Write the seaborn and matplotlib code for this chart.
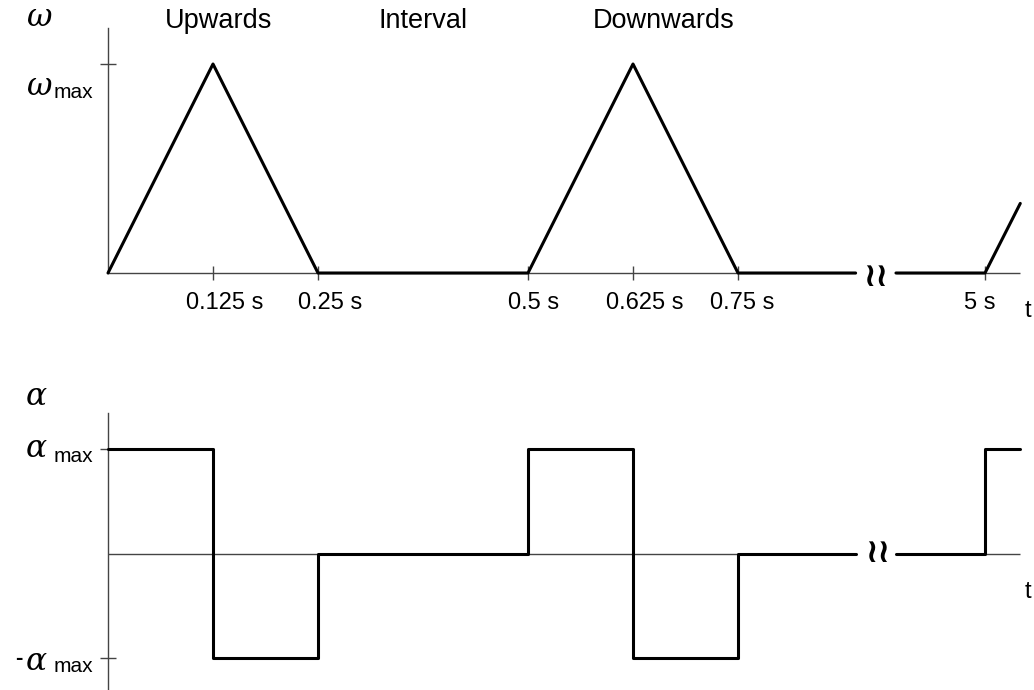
import numpy as np
import pandas as pd
import matplotlib
matplotlib.use("Agg")
import matplotlib.pyplot as plt
import seaborn as sns

# ---- data (times in seconds) ----
omega_t1 = [0.0, 0.125, 0.25, 0.5, 0.625, 0.75, 0.89]
omega_v1 = [0, 1, 0, 0, 1, 0, 0]
omega_t2 = [4.894, 5.0, 5.042]
omega_v2 = [0, 0, 0.333]

alpha_t1 = [0.0, 0.125, 0.125, 0.25, 0.25, 0.5, 0.5, 0.625, 0.625, 0.75, 0.75, 0.89]
alpha_v1 = [1, 1, -1, -1, 0, 0, 1, 1, -1, -1, 0, 0]
alpha_t2 = [4.894, 5.0, 5.0, 5.042]
alpha_v2 = [0, 0, 1, 1]

tick_times = [0.125, 0.25, 0.5, 0.625, 0.75, 5.0]
tick_labels = ["0.125 s", "0.25 s", "0.5 s", "0.625 s", "0.75 s", "5 s"]
phases = ["Upwards", "Interval", "Downwards"]

# ---- layout ----
W, H = 1034, 690
PX_PER_S = 840.0
X0 = 108                 # pixel of t = 0
XR = 1020                # right end of axes
T_SHIFT = 5.0 - (985 - X0) / PX_PER_S   # broken axis: 5 s drawn at x=985
BRK_L, BRK_R = 0.89, 0.938               # gap in plot units

sns.set_style("white")
plt.rcParams["font.family"] = ["Liberation Sans", "DejaVu Sans"]
plt.rcParams["text.color"] = "black"


def tx(t):
    t = np.asarray(t, dtype=float)
    return np.where(t > 1.0, t - T_SHIFT, t)


def px(x, y):
    return x / W, 1 - y / H


def add_box(left, top, right, bottom):
    return fig.add_axes([left / W, 1 - bottom / H, (right - left) / W, (bottom - top) / H])


def segs(t1, v1, t2, v2):
    return pd.DataFrame({
        "x": np.concatenate([tx(t1), tx(t2)]),
        "y": list(v1) + list(v2),
        "seg": [0] * len(t1) + [1] * len(t2),
    })


fig = plt.figure(figsize=(W / 100, H / 100), dpi=100)
xmax = (XR - X0) / PX_PER_S
axis_col = "#444444"

# ---- omega panel ----
ax1 = add_box(X0, 28, XR, 273)
ax1.set_xlim(0, xmax)
ax1.set_ylim(0, (273 - 28) / (273 - 64))
ax1.hlines([0, 0], [0, BRK_R], [BRK_L, xmax], color=axis_col, lw=1.0, zorder=1)
sns.lineplot(data=segs(omega_t1, omega_v1, omega_t2, omega_v2), x="x", y="y",
             units="seg", estimator=None, sort=False, color="black", lw=2.2,
             ax=ax1, zorder=3)

# ---- alpha panel ----
ax2 = add_box(X0, 413, XR, 690)
ax2.set_xlim(0, xmax)
ax2.set_ylim(-(690 - 553.5) / 104.5, (553.5 - 413) / 104.5)
ax2.hlines([0, 0], [0, BRK_R], [BRK_L, xmax], color=axis_col, lw=1.0, zorder=1)
sns.lineplot(data=segs(alpha_t1, alpha_v1, alpha_t2, alpha_v2), x="x", y="y",
             units="seg", estimator=None, sort=False, color="black", lw=2.2,
             ax=ax2, zorder=3)

for ax in (ax1, ax2):
    for s in ("top", "right", "bottom"):
        ax.spines[s].set_visible(False)
    ax.spines["left"].set_color(axis_col)
    ax.spines["left"].set_linewidth(1.0)
    ax.set_xlabel("")
    ax.set_ylabel("")
    ax.patch.set_alpha(0)
    for line in ax.get_lines():
        line.set_clip_on(False)
    for coll in ax.collections:
        coll.set_clip_on(False)

ax1.set_xticks(tx(tick_times))
ax1.set_yticks([1])
ax1.tick_params(axis="x", bottom=True, direction="inout", length=10, width=1,
                color=axis_col, labelbottom=False)
ax1.tick_params(axis="y", left=True, direction="inout", length=12, width=1,
                color=axis_col, labelleft=False)
ax2.set_xticks([])
ax2.set_yticks([1, -1])
ax2.tick_params(axis="y", left=True, direction="inout", length=12, width=1,
                color=axis_col, labelleft=False)

# ---- texts ----
lab_nudge = [12, 12, 6, 12, 4, -5]
for t, lab, dx in zip(tick_times, tick_labels, lab_nudge):
    xp = X0 + float(tx(t)) * PX_PER_S + dx
    fig.text(*px(xp, 303), lab, ha="center", va="center", fontsize=17)

for lab, xc in zip(phases, [219, 423, 664]):
    fig.text(*px(xc, 21), lab, ha="center", va="center", fontsize=19.5)

greek = dict(family=["DejaVu Serif"], style="italic", fontsize=22.5)
fig.text(*px(26, 26), "\u03c9", ha="left", va="baseline", **greek)
fig.text(*px(26, 95), "\u03c9", ha="left", va="baseline", **greek)
fig.text(*px(54, 98), "max", ha="left", va="baseline", fontsize=15)

fig.text(*px(26, 405), "\u03b1", ha="left", va="baseline", **greek)
fig.text(*px(26, 457), "\u03b1", ha="left", va="baseline", **greek)
fig.text(*px(54, 462), "max", ha="left", va="baseline", fontsize=15)
fig.text(*px(15, 664), "-", ha="left", va="baseline", fontsize=16, fontweight="bold")
fig.text(*px(26, 670), "\u03b1", ha="left", va="baseline", **greek)
fig.text(*px(54, 672), "max", ha="left", va="baseline", fontsize=15)

fig.text(*px(1028, 311), "t", ha="center", va="center", fontsize=17)
fig.text(*px(1028, 592), "t", ha="center", va="center", fontsize=17)

# axis-break marks
fig.text(*px(876, 276), "\u2240\u2240", ha="center", va="center", fontsize=24,
         fontweight="bold", family="DejaVu Sans")
fig.text(*px(878, 553), "\u2240\u2240", ha="center", va="center", fontsize=24,
         fontweight="bold", family="DejaVu Sans")

fig.savefig("out.png", dpi=100)
